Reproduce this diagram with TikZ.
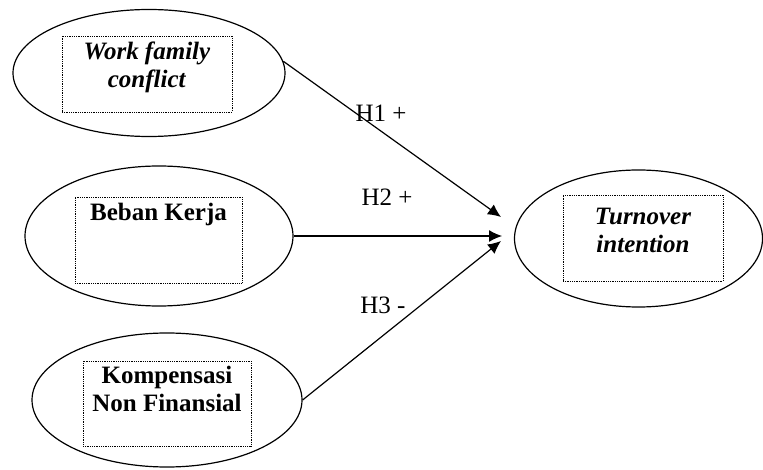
\documentclass[tikz,border=0pt]{standalone}
\usepackage{fontspec}
\setmainfont{Liberation Serif}
\usetikzlibrary{shapes.geometric,positioning,arrows.meta}

\tikzset{
  oval/.style={ellipse,draw,line width=1.2pt,inner sep=0},
  dotbox/.style={draw,densely dotted,line width=0.8pt,inner sep=0},
  lbl/.style={align=center,inner sep=0,font=\fontsize{25}{28}\selectfont},
  hyp/.style={inner sep=0,font=\fontsize{25}{28}\selectfont},
  path/.style={line width=1.2pt,-{Latex[length=13pt,width=12pt]}}
}

\begin{document}
\begin{tikzpicture}[x=1pt,y=-1pt]
  \useasboundingbox (0,0) rectangle (763,470);

  \node (wfc) at (149,73) [oval,minimum width=272pt,minimum height=127pt]{};
  \node (wfcbox) at (147,74) [dotbox,minimum width=170pt,minimum height=76pt]{};
  \node (wfctext) [lbl,below=6.5pt of wfcbox.north]{\textbf{\textit{Work family}}\\\textbf{\textit{conflict}}};

  \node (bk) at (159,236) [oval,minimum width=268pt,minimum height=140pt]{};
  \node (bkbox) at (158.5,240) [dotbox,minimum width=167pt,minimum height=86pt]{};
  \node (bktext) [lbl,below=6pt of bkbox.north]{\textbf{Beban Kerja}};

  \node (kno) at (167,400) [oval,minimum width=270pt,minimum height=134pt]{};
  \node (knobox) at (167,403.5) [dotbox,minimum width=168pt,minimum height=85pt]{};
  \node (knotext) [lbl,below=5pt of knobox.north]{\textbf{Kompensasi}\\\textbf{Non Finansial}};

  \node (ti) at (638.5,238.5) [oval,minimum width=248pt,minimum height=137pt]{};
  \node (tibox) at (643,238) [dotbox,minimum width=160pt,minimum height=86pt]{};
  \node (titext) [lbl,below=13.5pt of tibox.north]{\textbf{\textit{Turnover}}\\\textbf{\textit{intention}}};

  \coordinate (tip1) at (501,217);
  \coordinate (tip2) at (502,236);
  \coordinate (tip3) at (501,241);

  \draw[path] (wfc.5) -- (tip1);
  \draw[path] (bk.east) -- (tip2);
  \draw[path] (kno.east) -- (tip3);

  \node (h1) at (381,113) [hyp]{H1 +};
  \node (h2) at (387,197) [hyp]{H2 +};
  \node (h3) at (383,305) [hyp]{H3 -};

\end{tikzpicture}
\end{document}
